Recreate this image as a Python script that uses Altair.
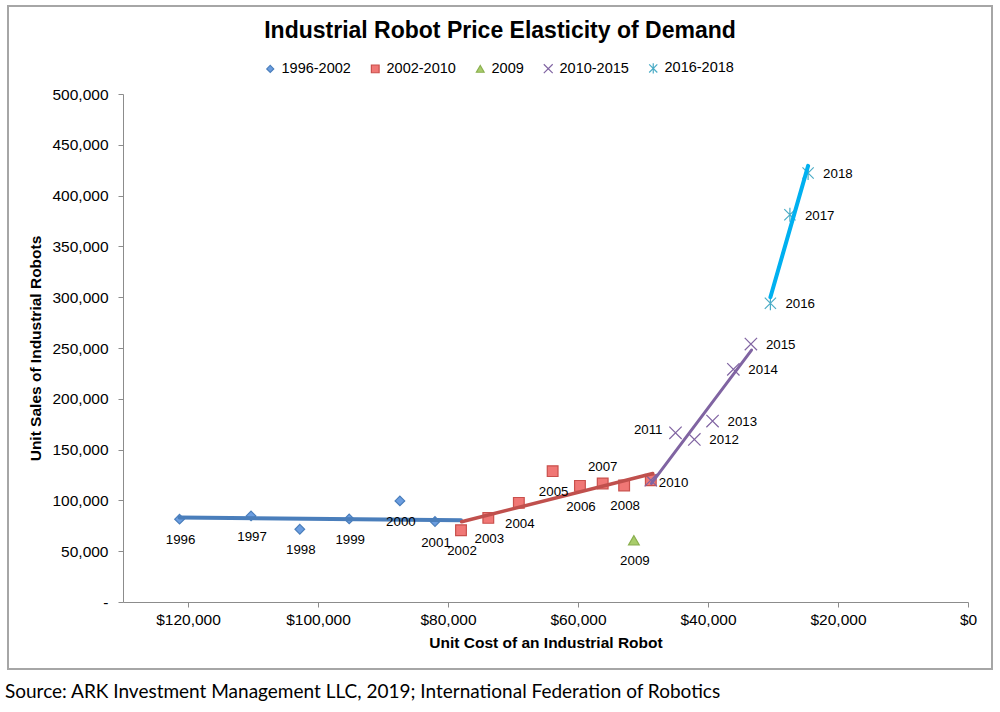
import altair as alt
import pandas as pd

TITLE = "Industrial Robot Price Elasticity of Demand"
X_TITLE = "Unit Cost of an Industrial Robot"
Y_TITLE = "Unit Sales of Industrial Robots"
SOURCE = "Source: ARK Investment Management LLC, 2019; International Federation of Robotics"

SERIES = ["1996-2002", "2002-2010", "2009", "2010-2015", "2016-2018"]

YEARS_A = [1996, 1997, 1998, 1999, 2000, 2001, 2002]
COST_A = [121300, 110300, 102800, 95200, 87400, 82000, 78000]
SALES_A = [81500, 84700, 71600, 81800, 99500, 79200, 70700]

YEARS_B = [2002, 2003, 2004, 2005, 2006, 2007, 2008, 2010]
COST_B = [78000, 73800, 69100, 63900, 59700, 56200, 52900, 48800]
SALES_B = [70700, 82800, 97600, 128800, 114300, 116700, 114700, 119900]

YEARS_C = [2009]
COST_C = [51400]
SALES_C = [60800]

YEARS_D = [2010, 2011, 2012, 2013, 2014, 2015]
COST_D = [48800, 45000, 42100, 39300, 36100, 33400]
SALES_D = [119900, 166500, 160000, 178100, 229000, 253900]

YEARS_E = [2016, 2017, 2018]
COST_E = [30400, 27400, 24600]
SALES_E = [294000, 381100, 422200]

# fitted trend lines: start and end points
TREND_A_COST = [121300, 78000]
TREND_A_SALES = [83200, 80500]
TREND_B_COST = [77900, 48500]
TREND_B_SALES = [79000, 126500]
TREND_D_COST = [48700, 33300]
TREND_D_SALES = [116700, 248000]
TREND_E_COST = [30400, 24600]
TREND_E_SALES = [300000, 429300]

X_TICKS = [0, 20000, 40000, 60000, 80000, 100000, 120000]
Y_TICKS = [0, 50000, 100000, 150000, 200000, 250000, 300000, 350000, 400000, 450000, 500000]

LABEL_ABOVE = [2007]
LABEL_LEFT = [2011]
LABEL_RIGHT_NEAR = [2010]
LABEL_RIGHT = [2012, 2013, 2014, 2015, 2016, 2017, 2018]

FONT = "Liberation Sans"

groups = [
    (SERIES[0], YEARS_A, COST_A, SALES_A),
    (SERIES[1], YEARS_B, COST_B, SALES_B),
    (SERIES[2], YEARS_C, COST_C, SALES_C),
    (SERIES[3], YEARS_D, COST_D, SALES_D),
    (SERIES[4], YEARS_E, COST_E, SALES_E),
]
rows = []
for s, ys, cs, vs in groups:
    for y, c, v in zip(ys, cs, vs):
        rows.append({"series": s, "year": y, "cost": c, "sales": v})
points = pd.DataFrame(rows)

labels = points.drop_duplicates("year").copy()


def placement(y):
    if y in LABEL_ABOVE:
        return "above"
    if y in LABEL_LEFT:
        return "left"
    if y in LABEL_RIGHT_NEAR:
        return "right_near"
    if y in LABEL_RIGHT:
        return "right"
    return "below"


labels["place"] = labels["year"].map(placement)
labels["label"] = labels["year"].astype(str)

trend_rows = []
for s, cs, vs in [
    (SERIES[0], TREND_A_COST, TREND_A_SALES),
    (SERIES[1], TREND_B_COST, TREND_B_SALES),
    (SERIES[3], TREND_D_COST, TREND_D_SALES),
    (SERIES[4], TREND_E_COST, TREND_E_SALES),
]:
    for c, v in zip(cs, vs):
        trend_rows.append({"series": s, "cost": c, "sales": v})
trends = pd.DataFrame(trend_rows)

DIAMOND_PATH = "M0,-0.9L0.9,0L0,0.9L-0.9,0Z"
X_PATH = "M-1.15,-1.15L1.15,1.15M-1.15,1.15L1.15,-1.15"
STAR_PATH = "M-1.05,-1.05L1.05,1.05M-1.05,1.05L1.05,-1.05M0,-1.3L0,1.3"

x_enc = alt.X(
    "cost:Q",
    scale=alt.Scale(domain=[0, 130000], reverse=True, nice=False),
    axis=alt.Axis(
        values=X_TICKS, format="$,.0f", title=X_TITLE, grid=False,
        domainColor="#8c8c8c", tickColor="#8c8c8c", tickSize=5,
        labelFont=FONT, labelFontSize=15.5, labelColor="#000000", labelPadding=5,
        labelFlush=False, labelOverlap=False,
        titleFont=FONT, titleFontSize=15.5, titleFontWeight="bold",
        titleColor="#000000", titlePadding=8,
    ),
)
y_enc = alt.Y(
    "sales:Q",
    scale=alt.Scale(domain=[0, 500000], nice=False),
    axis=alt.Axis(
        values=Y_TICKS, labelExpr="datum.value == 0 ? '-\u00a0\u00a0' : format(datum.value, ',')",
        title=Y_TITLE, grid=False,
        domainColor="#8c8c8c", tickColor="#8c8c8c", tickSize=5,
        labelFont=FONT, labelFontSize=15.5, labelColor="#000000", labelPadding=10,
        labelFlush=False, labelOverlap=False,
        titleFont=FONT, titleFontSize=15.5, titleFontWeight="bold",
        titleColor="#000000", titlePadding=8,
    ),
)

pts = alt.Chart(points).mark_point(filled=True, strokeWidth=1.2, size=115, opacity=1).encode(
    x=x_enc,
    y=y_enc,
    shape=alt.Shape("series:N", sort=SERIES, title=None,
                    scale=alt.Scale(domain=SERIES, range=[DIAMOND_PATH, "square", "triangle-up", X_PATH, STAR_PATH])),
    fill=alt.Fill("series:N", sort=SERIES, title=None,
                  scale=alt.Scale(domain=SERIES, range=["#6b9de0", "#f07775", "#a8cc6a", "#8064a2", "#4bacc6"])),
    stroke=alt.Stroke("series:N", sort=SERIES, title=None,
                      scale=alt.Scale(domain=SERIES, range=["#4a7ebb", "#c9504c", "#8bb050", "#8064a2", "#4bacc6"])),
)

LINE_COLORS = {SERIES[0]: "#4a7ebb", SERIES[1]: "#c0504d", SERIES[3]: "#8064a2", SERIES[4]: "#00b0f0"}
LINE_WIDTHS = {SERIES[0]: 4, SERIES[1]: 3.5, SERIES[3]: 3, SERIES[4]: 4}
line_layers = []
for s in [SERIES[0], SERIES[1], SERIES[3], SERIES[4]]:
    line_layers.append(
        alt.Chart(trends).transform_filter(alt.datum.series == s)
        .mark_line(color=LINE_COLORS[s], strokeWidth=LINE_WIDTHS[s], strokeCap="round")
        .encode(x="cost:Q", y="sales:Q")
    )

label_specs = {
    "below": dict(align="center", dx=1, dy=21),
    "above": dict(align="center", dx=0, dy=-16),
    "left": dict(align="right", dx=-13, dy=-3),
    "right_near": dict(align="left", dx=8, dy=3),
    "right": dict(align="left", dx=15, dy=1),
}
label_layers = []
for place, spec in label_specs.items():
    label_layers.append(
        alt.Chart(labels).transform_filter(alt.datum.place == place)
        .mark_text(font=FONT, fontSize=13.3, color="#000000", baseline="middle", **spec)
        .encode(x="cost:Q", y="sales:Q", text="label:N")
    )

frame = alt.Chart(alt.Data(values=[{"k": 1}])).mark_rect(
    filled=False, stroke="#a6a6a6", strokeWidth=2
).encode(x=alt.value(-115), x2=alt.value(869), y=alt.value(-88), y2=alt.value(575))

title = alt.Chart(alt.Data(values=[{"t": TITLE}])).mark_text(
    font=FONT, fontSize=23, fontWeight="bold", color="#000000", align="center", baseline="middle"
).encode(x=alt.value(377), y=alt.value(-63), text="t:N")

source = alt.Chart(alt.Data(values=[{"t": SOURCE}])).mark_text(
    font="Lato", fontSize=19, color="#000000", align="left", baseline="middle"
).encode(x=alt.value(-118), y=alt.value(598), text="t:N")

chart = alt.layer(frame, title, pts, *line_layers, *label_layers, source).properties(
    width=845, height=508,
    padding={"left": 123, "top": 94, "right": 32, "bottom": 110},
    autosize=alt.AutoSizeParams(type="none"),
    background="#ffffff",
).configure_view(strokeWidth=0).configure_legend(
    orient="none", legendX=140, legendY=-33, direction="horizontal",
    labelFont=FONT, labelFontSize=14.5, labelColor="#000000",
    symbolSize=60, symbolOpacity=1, labelOffset=4, columnPadding=17, symbolStrokeWidth=1.2,
)

chart.save("out.html", embed_options={"renderer": "svg", "actions": False})
